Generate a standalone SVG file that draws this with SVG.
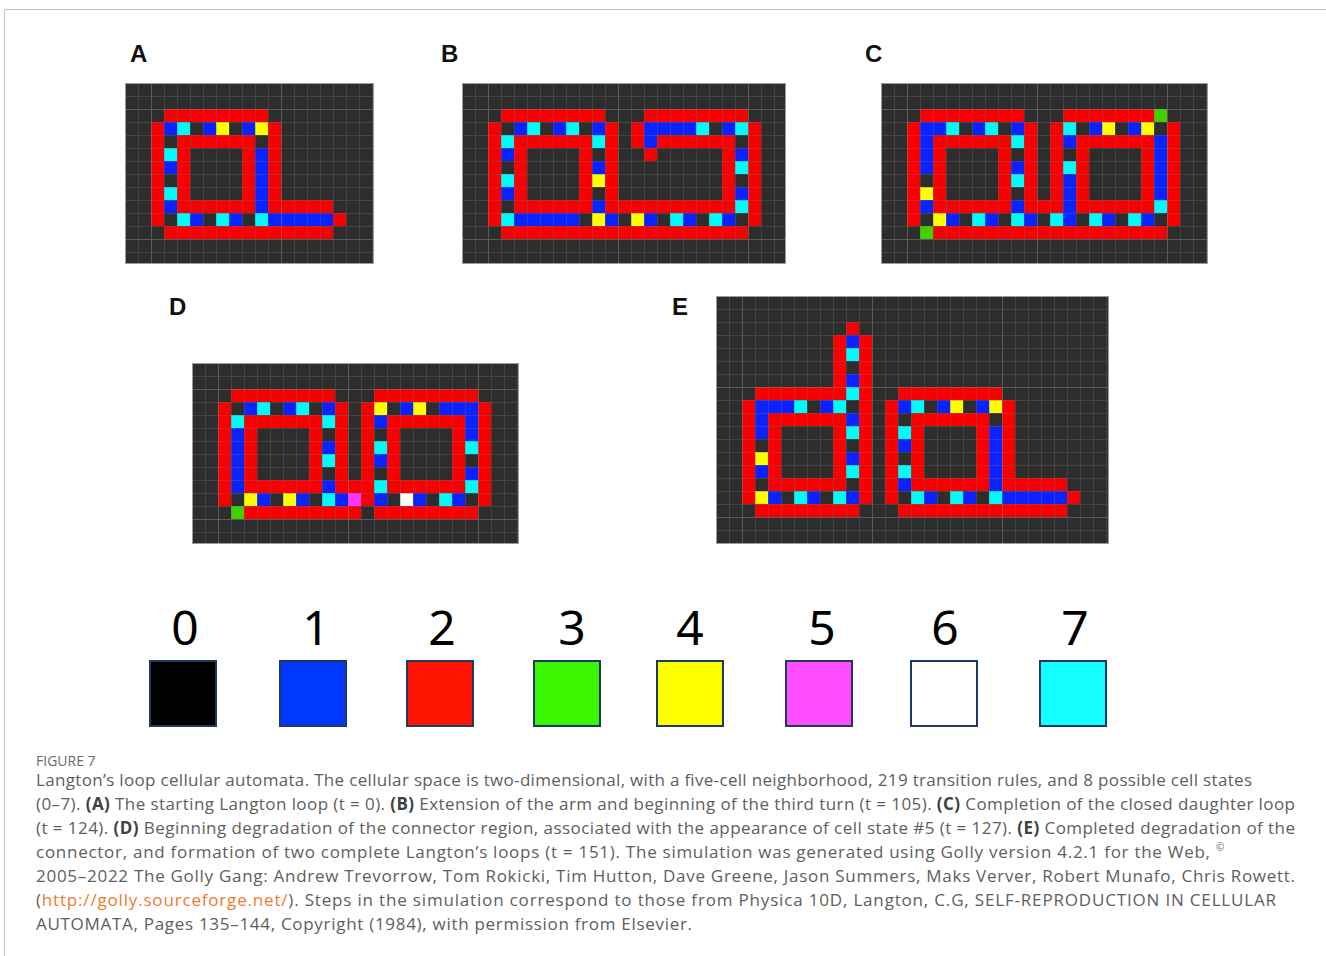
<svg xmlns="http://www.w3.org/2000/svg" width="1326" height="956" viewBox="0 0 1326 956">
<style>
.bg{fill:#2d2d2d}
.pf{fill:none;stroke:#9a9a9a;stroke-width:1}
.r{fill:#f80000}.b{fill:#0a22ff}.c{fill:#00fbfb}.y{fill:#ffff00}.g{fill:#44d000}.m{fill:#ff33ff}.w{fill:#ffffff}
.lbl{font-family:"Liberation Sans",Arial,sans-serif;font-weight:700;font-size:24px;fill:#111}
.dig{font-family:"Noto Sans","Open Sans",sans-serif;font-size:48px;fill:#000;text-anchor:middle}
.sq{stroke:#1f3864;stroke-width:2}
.cap{font-family:"Open Sans","Noto Sans",sans-serif;font-size:17px;fill:#5e5e5e}
.cap tspan.bd{font-weight:700;fill:#404040}
.lnk{fill:#ee7a2e}
</style>
<defs>
<pattern id="grid" width="13" height="13" patternUnits="userSpaceOnUse"><path d="M0 0.5H13M0.5 0V13" stroke="#6e6e6e" stroke-width="1" fill="none"/></pattern>
<pattern id="major" x="26" y="26" width="130" height="130" patternUnits="userSpaceOnUse"><path d="M0 0.5H130M0.5 0V130" stroke="#a0a0a0" stroke-width="1" fill="none"/></pattern>
<pattern id="majorE" x="26" y="91" width="130" height="130" patternUnits="userSpaceOnUse"><path d="M0 0.5H130M0.5 0V130" stroke="#a0a0a0" stroke-width="1" fill="none"/></pattern>
</defs>
<rect width="1326" height="956" fill="#fff"/>
<path d="M4.5 956V9.5H1326" fill="none" stroke="#c4c4c4" stroke-width="1"/>

<g id="label-A"><text class="lbl" x="130" y="62">A</text></g>
<g id="label-B"><text class="lbl" x="441" y="62">B</text></g>
<g id="label-C"><text class="lbl" x="865" y="62">C</text></g>
<g id="label-D"><text class="lbl" x="169" y="315">D</text></g>
<g id="label-E"><text class="lbl" x="672" y="315">E</text></g>

<g id="panel-A" transform="translate(125,83)">
<rect class="bg" width="249" height="181"/>
<g transform="scale(13)">
<g class="r"><rect x="3" y="2" width="8" height="1"/><rect x="2" y="3" width="1" height="8"/><rect x="4" y="4" width="6" height="1"/><rect x="11" y="3" width="1" height="6"/><rect x="4" y="5" width="1" height="4"/><rect x="9" y="5" width="1" height="4"/><rect x="4" y="9" width="6" height="1"/><rect x="11" y="9" width="5" height="1"/><rect x="16" y="10" width="1" height="1"/><rect x="3" y="11" width="13" height="1"/></g>
<g class="b"><rect x="3" y="3" width="1" height="1"/><rect x="6" y="3" width="1" height="1"/><rect x="9" y="3" width="1" height="1"/><rect x="3" y="6" width="1" height="1"/><rect x="3" y="9" width="1" height="1"/><rect x="10" y="5" width="1" height="5"/><rect x="5" y="10" width="1" height="1"/><rect x="8" y="10" width="1" height="1"/><rect x="11" y="10" width="5" height="1"/></g>
<g class="c"><rect x="4" y="3" width="1" height="1"/><rect x="3" y="5" width="1" height="1"/><rect x="3" y="8" width="1" height="1"/><rect x="4" y="10" width="1" height="1"/><rect x="7" y="10" width="1" height="1"/><rect x="10" y="10" width="1" height="1"/></g>
<g class="y"><rect x="7" y="3" width="1" height="1"/><rect x="10" y="3" width="1" height="1"/></g>
</g>
<rect width="249" height="181" fill="url(#grid)" opacity="0.35"/>
<rect width="249" height="181" fill="url(#major)" opacity="0.25"/>
<rect class="pf" x="0.5" y="0.5" width="248" height="180"/>
</g>

<g id="panel-B" transform="translate(462,83)">
<rect class="bg" width="324" height="181"/>
<g transform="scale(13)">
<g class="r"><rect x="3" y="2" width="8" height="1"/><rect x="14" y="2" width="8" height="1"/><rect x="2" y="3" width="1" height="8"/><rect x="11" y="3" width="1" height="6"/><rect x="13" y="3" width="1" height="2"/><rect x="4" y="4" width="6" height="1"/><rect x="15" y="4" width="6" height="1"/><rect x="4" y="5" width="1" height="4"/><rect x="9" y="5" width="1" height="4"/><rect x="14" y="5" width="1" height="1"/><rect x="20" y="5" width="1" height="4"/><rect x="22" y="3" width="1" height="8"/><rect x="4" y="9" width="6" height="1"/><rect x="11" y="9" width="10" height="1"/><rect x="3" y="11" width="19" height="1"/></g>
<g class="b"><rect x="4" y="3" width="1" height="1"/><rect x="7" y="3" width="1" height="1"/><rect x="10" y="3" width="1" height="1"/><rect x="14" y="3" width="4" height="1"/><rect x="20" y="3" width="1" height="1"/><rect x="14" y="4" width="1" height="1"/><rect x="3" y="5" width="1" height="1"/><rect x="21" y="5" width="1" height="1"/><rect x="10" y="6" width="1" height="1"/><rect x="3" y="8" width="1" height="1"/><rect x="21" y="8" width="1" height="1"/><rect x="10" y="9" width="1" height="1"/><rect x="4" y="10" width="5" height="1"/><rect x="11" y="10" width="1" height="1"/><rect x="14" y="10" width="1" height="1"/><rect x="17" y="10" width="1" height="1"/><rect x="20" y="10" width="1" height="1"/></g>
<g class="c"><rect x="5" y="3" width="1" height="1"/><rect x="8" y="3" width="1" height="1"/><rect x="18" y="3" width="1" height="1"/><rect x="21" y="3" width="1" height="1"/><rect x="3" y="4" width="1" height="1"/><rect x="10" y="4" width="1" height="1"/><rect x="21" y="6" width="1" height="1"/><rect x="3" y="7" width="1" height="1"/><rect x="21" y="9" width="1" height="1"/><rect x="3" y="10" width="1" height="1"/><rect x="16" y="10" width="1" height="1"/><rect x="19" y="10" width="1" height="1"/></g>
<g class="y"><rect x="10" y="7" width="1" height="1"/><rect x="10" y="10" width="1" height="1"/><rect x="13" y="10" width="1" height="1"/></g>
</g>
<rect width="324" height="181" fill="url(#grid)" opacity="0.35"/>
<rect width="324" height="181" fill="url(#major)" opacity="0.25"/>
<rect class="pf" x="0.5" y="0.5" width="323" height="180"/>
</g>

<g id="panel-C" transform="translate(881,83)">
<rect class="bg" width="327" height="181"/>
<g transform="scale(13)">
<g class="r"><rect x="3" y="2" width="8" height="1"/><rect x="14" y="2" width="7" height="1"/><rect x="2" y="3" width="1" height="8"/><rect x="11" y="3" width="1" height="6"/><rect x="13" y="3" width="1" height="6"/><rect x="22" y="3" width="1" height="8"/><rect x="4" y="4" width="6" height="1"/><rect x="15" y="4" width="6" height="1"/><rect x="4" y="5" width="1" height="4"/><rect x="9" y="5" width="1" height="4"/><rect x="15" y="5" width="1" height="4"/><rect x="20" y="5" width="1" height="4"/><rect x="4" y="9" width="6" height="1"/><rect x="11" y="9" width="3" height="1"/><rect x="15" y="9" width="6" height="1"/><rect x="4" y="11" width="18" height="1"/></g>
<g class="b"><rect x="3" y="3" width="2" height="1"/><rect x="7" y="3" width="1" height="1"/><rect x="10" y="3" width="1" height="1"/><rect x="16" y="3" width="1" height="1"/><rect x="19" y="3" width="1" height="1"/><rect x="3" y="4" width="1" height="3"/><rect x="14" y="4" width="1" height="1"/><rect x="21" y="4" width="1" height="5"/><rect x="10" y="6" width="1" height="1"/><rect x="14" y="7" width="1" height="4"/><rect x="3" y="9" width="1" height="1"/><rect x="10" y="9" width="1" height="1"/><rect x="5" y="10" width="1" height="1"/><rect x="8" y="10" width="1" height="1"/><rect x="11" y="10" width="1" height="1"/><rect x="17" y="10" width="1" height="1"/><rect x="20" y="10" width="1" height="1"/></g>
<g class="c"><rect x="5" y="3" width="1" height="1"/><rect x="8" y="3" width="1" height="1"/><rect x="14" y="3" width="1" height="1"/><rect x="10" y="4" width="1" height="1"/><rect x="14" y="6" width="1" height="1"/><rect x="10" y="7" width="1" height="1"/><rect x="21" y="9" width="1" height="1"/><rect x="7" y="10" width="1" height="1"/><rect x="10" y="10" width="1" height="1"/><rect x="13" y="10" width="1" height="1"/><rect x="16" y="10" width="1" height="1"/><rect x="19" y="10" width="1" height="1"/></g>
<g class="y"><rect x="17" y="3" width="1" height="1"/><rect x="20" y="3" width="1" height="1"/><rect x="3" y="8" width="1" height="1"/><rect x="4" y="10" width="1" height="1"/></g>
<g class="g"><rect x="21" y="2" width="1" height="1"/><rect x="3" y="11" width="1" height="1"/></g>
</g>
<rect width="327" height="181" fill="url(#grid)" opacity="0.35"/>
<rect width="327" height="181" fill="url(#major)" opacity="0.25"/>
<rect class="pf" x="0.5" y="0.5" width="326" height="180"/>
</g>

<g id="panel-D" transform="translate(192,363)">
<rect class="bg" width="327" height="181"/>
<g transform="scale(13)">
<g class="r"><rect x="3" y="2" width="8" height="1"/><rect x="14" y="2" width="8" height="1"/><rect x="2" y="3" width="1" height="8"/><rect x="11" y="3" width="1" height="6"/><rect x="13" y="3" width="1" height="6"/><rect x="22" y="3" width="1" height="8"/><rect x="4" y="4" width="6" height="1"/><rect x="15" y="4" width="6" height="1"/><rect x="4" y="5" width="1" height="4"/><rect x="9" y="5" width="1" height="4"/><rect x="15" y="5" width="1" height="4"/><rect x="20" y="5" width="1" height="4"/><rect x="4" y="9" width="6" height="1"/><rect x="11" y="9" width="3" height="1"/><rect x="15" y="9" width="6" height="1"/><rect x="13" y="10" width="1" height="1"/><rect x="4" y="11" width="9" height="1"/><rect x="14" y="11" width="8" height="1"/></g>
<g class="b"><rect x="4" y="3" width="1" height="1"/><rect x="7" y="3" width="1" height="1"/><rect x="10" y="3" width="1" height="1"/><rect x="16" y="3" width="1" height="1"/><rect x="19" y="3" width="3" height="1"/><rect x="14" y="4" width="1" height="1"/><rect x="21" y="4" width="1" height="2"/><rect x="3" y="5" width="1" height="5"/><rect x="10" y="6" width="1" height="1"/><rect x="14" y="7" width="1" height="1"/><rect x="21" y="8" width="1" height="1"/><rect x="10" y="9" width="1" height="1"/><rect x="5" y="10" width="1" height="1"/><rect x="8" y="10" width="1" height="1"/><rect x="11" y="10" width="1" height="1"/><rect x="14" y="10" width="1" height="1"/><rect x="17" y="10" width="1" height="1"/><rect x="20" y="10" width="1" height="1"/></g>
<g class="c"><rect x="5" y="3" width="1" height="1"/><rect x="8" y="3" width="1" height="1"/><rect x="3" y="4" width="1" height="1"/><rect x="10" y="4" width="1" height="1"/><rect x="14" y="6" width="1" height="1"/><rect x="21" y="6" width="1" height="1"/><rect x="10" y="7" width="1" height="1"/><rect x="14" y="9" width="1" height="1"/><rect x="21" y="9" width="1" height="1"/><rect x="10" y="10" width="1" height="1"/><rect x="19" y="10" width="1" height="1"/></g>
<g class="y"><rect x="14" y="3" width="1" height="1"/><rect x="17" y="3" width="1" height="1"/><rect x="4" y="10" width="1" height="1"/><rect x="7" y="10" width="1" height="1"/></g>
<rect class="m" x="12" y="10" width="1" height="1"/>
<rect class="w" x="16" y="10" width="1" height="1"/>
<rect class="g" x="3" y="11" width="1" height="1"/>
</g>
<rect width="327" height="181" fill="url(#grid)" opacity="0.35"/>
<rect width="327" height="181" fill="url(#major)" opacity="0.25"/>
<rect class="pf" x="0.5" y="0.5" width="326" height="180"/>
</g>

<g id="panel-E" transform="translate(716,296)">
<rect class="bg" width="393" height="248"/>
<g transform="scale(13)">
<g class="r"><rect x="10" y="2" width="1" height="1"/><rect x="9" y="3" width="1" height="4"/><rect x="3" y="7" width="7" height="1"/><rect x="11" y="3" width="1" height="13"/><rect x="14" y="7" width="8" height="1"/><rect x="2" y="8" width="1" height="8"/><rect x="13" y="8" width="1" height="8"/><rect x="22" y="8" width="1" height="7"/><rect x="4" y="9" width="6" height="1"/><rect x="15" y="9" width="6" height="1"/><rect x="4" y="10" width="1" height="4"/><rect x="9" y="10" width="1" height="4"/><rect x="15" y="10" width="1" height="4"/><rect x="20" y="10" width="1" height="4"/><rect x="4" y="14" width="6" height="1"/><rect x="15" y="14" width="6" height="1"/><rect x="23" y="14" width="4" height="1"/><rect x="27" y="15" width="1" height="1"/><rect x="3" y="16" width="8" height="1"/><rect x="14" y="16" width="13" height="1"/></g>
<g class="b"><rect x="10" y="3" width="1" height="1"/><rect x="10" y="6" width="1" height="1"/><rect x="3" y="8" width="3" height="1"/><rect x="8" y="8" width="1" height="1"/><rect x="14" y="8" width="1" height="1"/><rect x="17" y="8" width="1" height="1"/><rect x="20" y="8" width="1" height="1"/><rect x="3" y="9" width="1" height="2"/><rect x="10" y="9" width="1" height="1"/><rect x="14" y="11" width="1" height="1"/><rect x="21" y="10" width="1" height="5"/><rect x="10" y="12" width="1" height="1"/><rect x="3" y="13" width="1" height="1"/><rect x="14" y="14" width="1" height="1"/><rect x="4" y="15" width="1" height="1"/><rect x="7" y="15" width="1" height="1"/><rect x="10" y="15" width="1" height="1"/><rect x="16" y="15" width="1" height="1"/><rect x="19" y="15" width="1" height="1"/><rect x="22" y="15" width="5" height="1"/></g>
<g class="c"><rect x="10" y="4" width="1" height="1"/><rect x="10" y="7" width="1" height="1"/><rect x="6" y="8" width="1" height="1"/><rect x="9" y="8" width="1" height="1"/><rect x="15" y="8" width="1" height="1"/><rect x="10" y="10" width="1" height="1"/><rect x="14" y="10" width="1" height="1"/><rect x="10" y="13" width="1" height="1"/><rect x="14" y="13" width="1" height="1"/><rect x="6" y="15" width="1" height="1"/><rect x="9" y="15" width="1" height="1"/><rect x="15" y="15" width="1" height="1"/><rect x="18" y="15" width="1" height="1"/><rect x="21" y="15" width="1" height="1"/></g>
<g class="y"><rect x="18" y="8" width="1" height="1"/><rect x="21" y="8" width="1" height="1"/><rect x="3" y="12" width="1" height="1"/><rect x="3" y="15" width="1" height="1"/></g>
</g>
<rect width="393" height="248" fill="url(#grid)" opacity="0.35"/>
<rect width="393" height="248" fill="url(#majorE)" opacity="0.25"/>
<rect class="pf" x="0.5" y="0.5" width="392" height="247"/>
</g>

<g id="legend">
<g id="state-0"><text class="dig" x="185" y="645">0</text><rect class="sq" x="150" y="661" width="66" height="65" fill="#000000"/></g>
<g id="state-1"><text class="dig" x="316" y="645">1</text><rect class="sq" x="280" y="661" width="66" height="65" fill="#0038ff"/></g>
<g id="state-2"><text class="dig" x="442" y="645">2</text><rect class="sq" x="407" y="661" width="66" height="65" fill="#ff1500"/></g>
<g id="state-3"><text class="dig" x="572" y="645">3</text><rect class="sq" x="534" y="661" width="66" height="65" fill="#3af600"/></g>
<g id="state-4"><text class="dig" x="690" y="645">4</text><rect class="sq" x="657" y="661" width="66" height="65" fill="#ffff00"/></g>
<g id="state-5"><text class="dig" x="822" y="645">5</text><rect class="sq" x="786" y="661" width="66" height="65" fill="#ff4dff"/></g>
<g id="state-6"><text class="dig" x="945" y="645">6</text><rect class="sq" x="911" y="661" width="66" height="65" fill="#ffffff"/></g>
<g id="state-7"><text class="dig" x="1075" y="645">7</text><rect class="sq" x="1040" y="661" width="66" height="65" fill="#14ffff"/></g>
</g>

<g id="caption">
<text class="cap" x="36" y="766" style="font-size:14px;fill:#6a6a6a">FIGURE 7</text>
<text class="cap" x="36" y="786" textLength="1216" lengthAdjust="spacing">Langton’s loop cellular automata. The cellular space is two-dimensional, with a five-cell neighborhood, 219 transition rules, and 8 possible cell states</text>
<text class="cap" x="36" y="810" textLength="1259" lengthAdjust="spacing">(0–7). <tspan class="bd">(A)</tspan> The starting Langton loop (t = 0). <tspan class="bd">(B)</tspan> Extension of the arm and beginning of the third turn (t = 105). <tspan class="bd">(C)</tspan> Completion of the closed daughter loop</text>
<text class="cap" x="36" y="834" textLength="1259" lengthAdjust="spacing">(t = 124). <tspan class="bd">(D)</tspan> Beginning degradation of the connector region, associated with the appearance of cell state #5 (t = 127). <tspan class="bd">(E)</tspan> Completed degradation of the</text>
<text class="cap" x="36" y="858" textLength="1174" lengthAdjust="spacing">connector, and formation of two complete Langton’s loops (t = 151). The simulation was generated using Golly version 4.2.1 for the Web,</text>
<text class="cap" x="1216" y="851" style="font-size:10px">©</text>
<text class="cap" x="36" y="882" textLength="1259" lengthAdjust="spacing">2005–2022 The Golly Gang: Andrew Trevorrow, Tom Rokicki, Tim Hutton, Dave Greene, Jason Summers, Maks Verver, Robert Munafo, Chris Rowett.</text>
<text class="cap" x="36" y="906" textLength="1240" lengthAdjust="spacing">(<tspan class="lnk">http://golly.sourceforge.net/</tspan>). Steps in the simulation correspond to those from Physica 10D, Langton, C.G, SELF-REPRODUCTION IN CELLULAR</text>
<text class="cap" x="36" y="930" textLength="656" lengthAdjust="spacing">AUTOMATA, Pages 135–144, Copyright (1984), with permission from Elsevier.</text>
</g>
</svg>
